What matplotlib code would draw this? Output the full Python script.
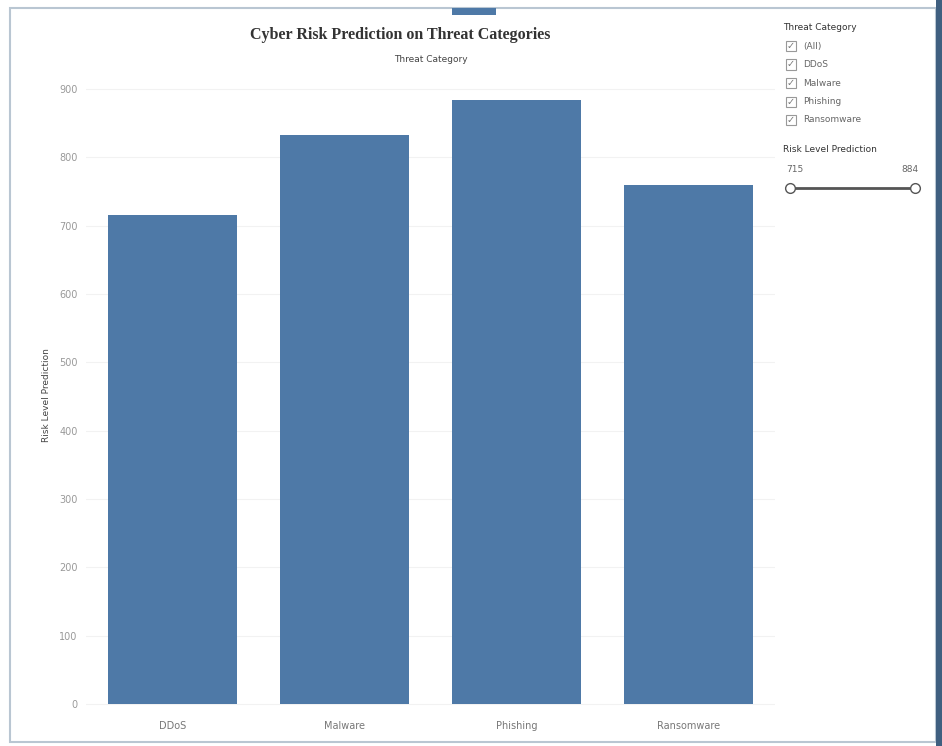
import matplotlib.pyplot as plt
from matplotlib.patches import Rectangle

categories = ['DDoS', 'Malware', 'Phishing', 'Ransomware']
risk_values = [715, 833, 884, 760]
yticks = [0, 100, 200, 300, 400, 500, 600, 700, 800, 900]
filter_items = ['(All)', 'DDoS', 'Malware', 'Phishing', 'Ransomware']

W, H = 942, 746
fig = plt.figure(figsize=(W / 100, H / 100), dpi=100)
fig.patch.set_facecolor('white')


def fx(px):
    return px / W


def fy(py):
    return 1 - py / H


# dashboard frame
fig.patches.append(Rectangle((fx(10), fy(742)), fx(926), 734 / H, transform=fig.transFigure,
                             fill=False, edgecolor='#b9c6d2', linewidth=1.5))
fig.patches.append(Rectangle((fx(452), fy(15)), fx(44), 7 / H, transform=fig.transFigure,
                             facecolor='#4e79a7', edgecolor='none'))
fig.patches.append(Rectangle((fx(936), fy(746)), fx(6), 1, transform=fig.transFigure,
                             facecolor='#3f5f80', edgecolor='none'))

ax = fig.add_axes([fx(86), fy(710), fx(775 - 86), (710 - 80) / H])
x = range(len(categories))
ax.bar(x, risk_values, width=0.75, color='#4e79a7', zorder=2)
ax.set_xlim(-0.5, 3.5)
ax.set_ylim(-9, 913)
ax.set_xticks(list(x))
ax.set_xticklabels(categories, fontsize=7, color='#777777')
ax.set_yticks(yticks)
ax.set_yticklabels([str(t) for t in yticks], fontsize=7, color='#999999')
ax.tick_params(length=0, pad=8)
ax.tick_params(axis='y', pad=6)
for s in ax.spines.values():
    s.set_visible(False)
ax.grid(axis='y', color='#f2f2f2', linewidth=0.8, zorder=0)
ax.set_ylabel('Risk Level Prediction', fontsize=6.5, color='#444444', labelpad=6)

fig.text(fx(400), fy(35), 'Cyber Risk Prediction on Threat Categories', ha='center', va='center',
         fontsize=11.5, fontweight='bold', family='Liberation Serif', color='#333333')
fig.text(fx(431), fy(60), 'Threat Category', ha='center', va='center', fontsize=6.5, color='#444444')

# filter panel
fig.text(fx(783), fy(28), 'Threat Category', ha='left', va='center', fontsize=6.5, color='#333333')
for i, item in enumerate(filter_items):
    yy = 46 + i * 18.5
    fig.patches.append(Rectangle((fx(786), fy(yy + 5)), fx(10), 10 / H, transform=fig.transFigure,
                                 fill=False, edgecolor='#999999', linewidth=0.8))
    fig.text(fx(791), fy(yy), '✓', ha='center', va='center', fontsize=7, color='#777777')
    fig.text(fx(803), fy(yy), item, ha='left', va='center', fontsize=6.5, color='#666666')

fig.text(fx(783), fy(150), 'Risk Level Prediction', ha='left', va='center', fontsize=6.5, color='#333333')
fig.text(fx(786), fy(170), str(min(risk_values)), ha='left', va='center', fontsize=6.5, color='#666666')
fig.text(fx(918), fy(170), str(max(risk_values)), ha='right', va='center', fontsize=6.5, color='#666666')
fig.lines.append(plt.Line2D([fx(790), fx(915)], [fy(188), fy(188)], transform=fig.transFigure,
                            color='#555555', linewidth=2))
for hx in (790, 915):
    fig.lines.append(plt.Line2D([fx(hx)], [fy(188)], transform=fig.transFigure, marker='o',
                                markersize=7, markerfacecolor='white', markeredgecolor='#555555'))

fig.savefig('out.png', dpi=100)
